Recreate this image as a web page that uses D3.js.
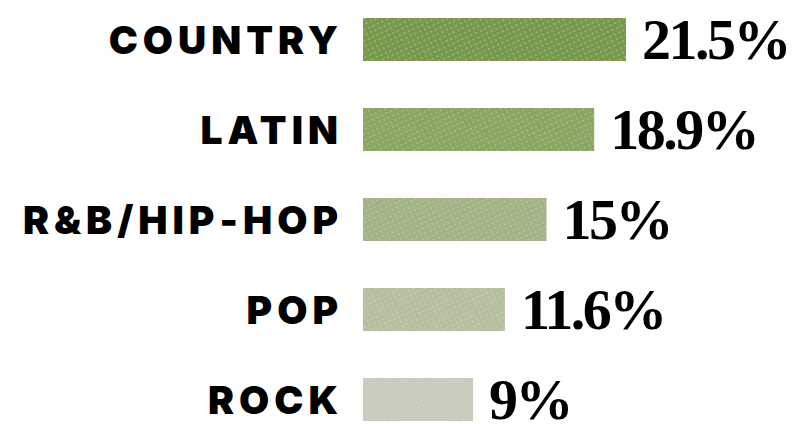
<!DOCTYPE html>
<html><head><meta charset="utf-8">
<script src="https://cdn.jsdelivr.net/npm/d3@7"></script>
<style>body{margin:0;background:#fff}svg{display:block}</style>
</head><body>
<script>
const genres = ["COUNTRY","LATIN","R&B/HIP-HOP","POP","ROCK"];
const shares = [21.5,18.9,15,11.6,9];
const valueLabels = ["21.5%","18.9%","15%","11.6%","9%"];
const barColors = ["#78984e","#8aa564","#a1b387","#b5c0a1","#c8cbbe"];
const dotColors = ["#aecb80","#b2ca90","#bfcea8","#cad3ba","#d5d7ce"];

const W=800,H=424;
const svg=d3.select("body").append("svg").attr("width",W).attr("height",H);
const defs=svg.append("defs");
barColors.forEach((c,i)=>{
  const p=defs.append("pattern").attr("id","pat"+i).attr("patternUnits","userSpaceOnUse")
    .attr("width",5).attr("height",5).attr("patternTransform","rotate(-25)");
  p.append("rect").attr("width",5).attr("height",5).attr("fill",c);
  p.append("circle").attr("cx",2.5).attr("cy",1).attr("r",0.9).attr("fill",dotColors[i]).attr("opacity",0.8);
});

const x=d3.scaleLinear().domain([0,21.5]).range([363,626]);
const y=d3.scaleBand().domain(genres).range([18,421]).paddingInner(0.522).paddingOuter(0);

const g=svg.append("g");
g.selectAll("rect.bar").data(genres).join("rect").attr("class","bar")
  .attr("x",x(0)).attr("y",d=>y(d)).attr("height",y.bandwidth())
  .attr("width",(d,i)=>x(shares[i])-x(0)).attr("fill",(d,i)=>`url(#pat${i})`);

g.selectAll("text.lab").data(genres).join("text").attr("class","lab")
  .attr("x",343).attr("y",d=>y(d)+y.bandwidth()/2).attr("dy","0.36em")
  .attr("text-anchor","end")
  .style("font-family","Inter, Lato, 'DejaVu Sans', sans-serif").style("font-weight",900)
  .style("font-size","39px").style("letter-spacing","5px")
  .text(d=>d);

g.selectAll("text.val").data(genres).join("text").attr("class","val")
  .attr("x",(d,i)=>x(shares[i])+16).attr("y",d=>y(d)+y.bandwidth()/2).attr("dy","0.34em")
  .style("font-family","'Liberation Serif', 'DejaVu Serif', serif").style("font-weight",700)
  .style("font-size","58px").style("letter-spacing","-2.5px")
  .text((d,i)=>valueLabels[i]);
</script>
</body></html>
